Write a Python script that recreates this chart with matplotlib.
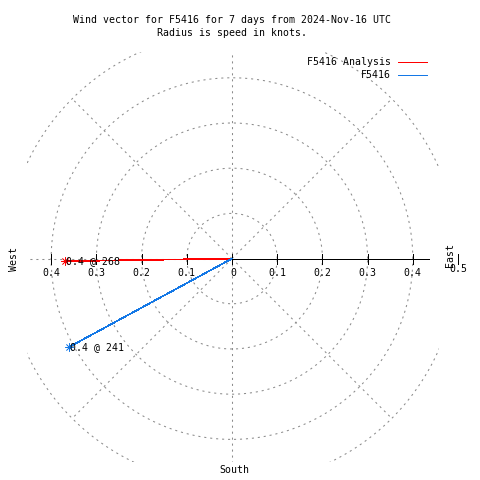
import numpy as np
import matplotlib
matplotlib.use('Agg')
import matplotlib.pyplot as plt

plt.rcParams['font.family'] = 'DejaVu Sans Mono'
plt.rcParams['lines.scale_dashes'] = False
plt.rcParams['lines.antialiased'] = False

# data
series = ['F5416 Analysis', 'F5416']
speed = [0.37, 0.41]          # knots, length of the drawn vector
bearing = [269.1, 241.5]      # degrees clockwise from north, as drawn
speed_lbl = ['0.4', '0.4']
dir_lbl = ['268', '241']
colors = ['#ff0000', '#1478e6']

rings = [0.1, 0.2, 0.3, 0.4, 0.5]
spokes = [45, 135, 225, 315]
east_ticks = [0.1, 0.2, 0.3, 0.4, 0.5]
east_lbls = ['0.1', '0.2', '0.3', '0.4']
west_ticks = [0.1, 0.2, 0.3, 0.4]
west_lbls = ['0.1', '0.2', '0.3', '0.4']

W, H = 480, 480
fig = plt.figure(figsize=(4.8, 4.8), dpi=100)
L, R, T, B = 27, 439, 52, 462
ax = fig.add_axes([L / W, 1 - B / H, (R - L) / W, (B - T) / H])
ax.set_xlim(-0.4535, 0.458)
ax.set_ylim(-0.450, 0.457)
ax.axis('off')

fs = 7.1
lw = 0.5
grid = dict(color='#8c8c8c', lw=0.75, ls=(0, (1.5, 2.8)), antialiased=True)

# polar grid
th = np.linspace(0, 2 * np.pi, 400)
for r in rings:
    ax.plot(r * np.cos(th), r * np.sin(th), **grid)
for a in spokes:
    ax.plot([0, 0.5 * np.sin(np.radians(a))], [0, 0.5 * np.cos(np.radians(a))], **grid)
ax.plot([0, 0], [-0.5, 0.5], **grid)
ax.plot([-0.5, 0], [0, 0], **grid)

# east radial axis
ax.plot([0, 0.435], [0, 0], color='black', lw=lw)
tk = 0.011
for t in [0] + east_ticks:
    ax.plot([t, t], [-tk, tk], color='black', lw=lw, clip_on=False)
for t in west_ticks:
    ax.plot([-t, -t], [-tk, tk], color='black', lw=lw)
for t, s in zip(east_ticks[:4], east_lbls):
    ax.text(t, -0.031, s, ha='center', va='center', fontsize=fs)
for t, s in zip(west_ticks, west_lbls):
    ax.text(-t, -0.031, s, ha='center', va='center', fontsize=fs)
ax.text(0.004, -0.031, '0', ha='center', va='center', fontsize=fs)
ax.text(0.5, -0.024, '0.5', ha='center', va='center', fontsize=fs, clip_on=False)

# vectors
for name, r, d, s, dl, c in zip(series, speed, bearing, speed_lbl, dir_lbl, colors):
    x = r * np.sin(np.radians(d))
    y = r * np.cos(np.radians(d))
    ax.plot([0, x], [0, y], color=c, lw=lw)
    ax.plot([x], [y], marker=(8, 2, 0), ms=6, color=c, mew=lw)
    ax.text(x + 0.002, y, '%s @ %s' % (s, dl), ha='left', va='center', fontsize=fs)

# compass labels
fig.text(14 / W, 1 - 259 / H, 'West', rotation=90, ha='center', va='center', fontsize=fs)
fig.text(450 / W, 1 - 255 / H, 'East', rotation=90, ha='center', va='center', fontsize=fs)
fig.text(234 / W, 1 - 470 / H, 'South', ha='center', va='center', fontsize=fs)

# title
fig.text(232 / W, 1 - 20 / H, 'Wind vector for F5416 for 7 days from 2024-Nov-16 UTC',
         ha='center', va='center', fontsize=fs)
fig.text(232 / W, 1 - 33 / H, 'Radius is speed in knots.',
         ha='center', va='center', fontsize=fs)

# legend
for i, (name, c) in enumerate(zip(series, colors)):
    yy = 1 - (62 + 13 * i) / H
    fig.text(391 / W, yy, name, ha='right', va='center', fontsize=fs)
    fig.add_artist(plt.Line2D([398 / W, 427 / W], [yy, yy], color=c, lw=lw,
                              transform=fig.transFigure))

fig.savefig('out.png', dpi=100)
